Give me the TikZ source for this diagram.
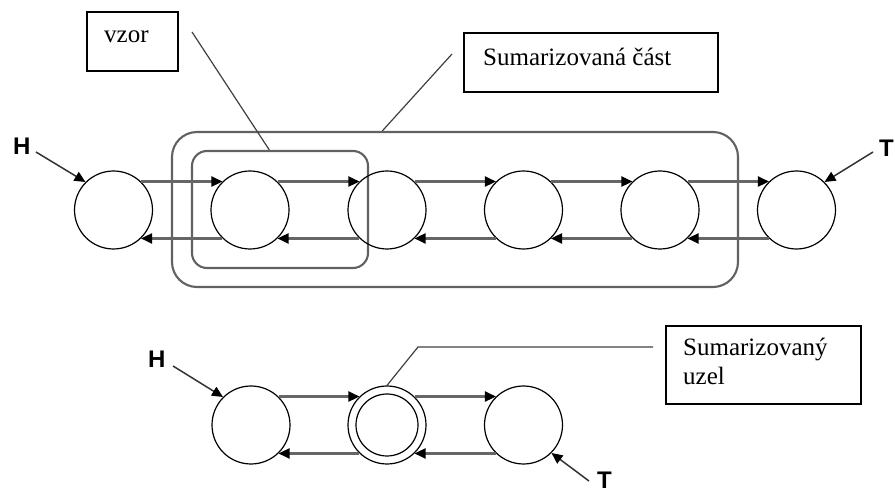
\documentclass[tikz,border=0pt]{standalone}
\usepackage{fontspec}
\setmainfont{Liberation Serif}
\newfontfamily\arialfont{Liberation Sans}
\usetikzlibrary{arrows.meta,calc}
\begin{document}
\begin{tikzpicture}[x=1pt,y=-1pt,
  nd/.style={circle,draw=black,line width=1.2pt,minimum size=78pt,inner sep=0pt},
  lnk/.style={draw=black!60,line width=2.2pt,-{Triangle[length=11pt,width=10pt,color=black]}},
  ptr/.style={draw=black!80,line width=1.5pt,-{Triangle[length=11pt,width=10pt,color=black]}},
  grp/.style={draw=black!62,line width=2.1pt,rectangle,inner sep=0pt},
  ln/.style={draw=black!75,line width=1.2pt},
  box/.style={draw=black,line width=1.4pt,rectangle,inner sep=0pt},
  txt/.style={inner sep=0pt,anchor=base west,font=\fontsize{25}{29}\selectfont},
  hl/.style={inner sep=0pt,anchor=base west,font=\arialfont\bfseries\fontsize{24}{24}\selectfont}]
\useasboundingbox (0,0) rectangle (895,494);

% group frames
\node[grp,rounded corners=25pt,minimum width=566pt,minimum height=155pt] (outer) at (455,209.5) {};
\node[grp,rounded corners=15pt,minimum width=176pt,minimum height=117pt] (inner) at (280,209.5) {};

% top row nodes
\foreach \i/\x in {1/113.5,2/250,3/387,4/523.5,5/660,6/796.5}
  \node[nd] (c\i) at (\x,210) {};

\foreach \a/\b in {1/2,2/3,3/4,4/5,5/6} {
  \draw[lnk] (c\a.46) -- (c\b.134);
  \draw[lnk] (c\b.-134) -- (c\a.-46);
}

% bottom row nodes
\node[nd] (ca) at (251,425) {};
\node[nd] (cb) at (387,425) {};
\node[circle,draw=black,line width=1.2pt,minimum size=62pt,inner sep=0pt] (cbi) at (387,425) {};
\node[nd] (cc) at (523.5,425) {};
\draw[lnk] (ca.46) -- (cb.134);
\draw[lnk] (cb.46) -- (cc.134);
\draw[lnk] (cb.-134) -- (ca.-46);
\draw[lnk] (cc.-134) -- (cb.-46);

% H / T labels
\node[hl] (h1) at (13,155) {H};
\node[hl] (t1) at (879,157) {T};
\node[hl] (h2) at (148,368) {H};
\node[hl] (t2) at (597,489) {T};
\coordinate (h1s) at (36,152);
\coordinate (t1s) at (873,152);
\coordinate (h2s) at (173,366);
\coordinate (t2s) at (589,481);
\draw[ptr] (h1s) -- (c1.135);
\draw[ptr] (t1s) -- (c6.45);
\draw[ptr] (h2s) -- (ca.135);
\draw[ptr] (t2s) -- (cc.-45);

% callout boxes
\node[box,minimum width=91pt,minimum height=59pt] (vzorbox) at (132.5,41.5) {};
\node[txt] (vzort) at (104,43) {vzor};
\node[box,minimum width=254pt,minimum height=59pt] (sumbox) at (591,62.5) {};
\node[txt] (sumt) at (483,66) {Sumarizovaná část};
\node[box,minimum width=195pt,minimum height=78pt] (uzelbox) at (763.5,365) {};
\node[txt] (uzelt1) at (683,356) {Sumarizovaný};
\node[txt] (uzelt2) at (683,385) {uzel};

% callout lines
\coordinate (vzs) at (192,32);
\coordinate (sms) at (452,54);
\coordinate (uzs) at (653,347);
\coordinate (uzk) at (418,347);
\draw[ln] (vzs) -- ($(inner.north west)!0.44!(inner.north east)$);
\draw[ln] (sms) -- ($(outer.north west)!0.372!(outer.north east)$);
\draw[ln] (uzs) -- (uzk) -- (cb.north);
\end{tikzpicture}
\end{document}
